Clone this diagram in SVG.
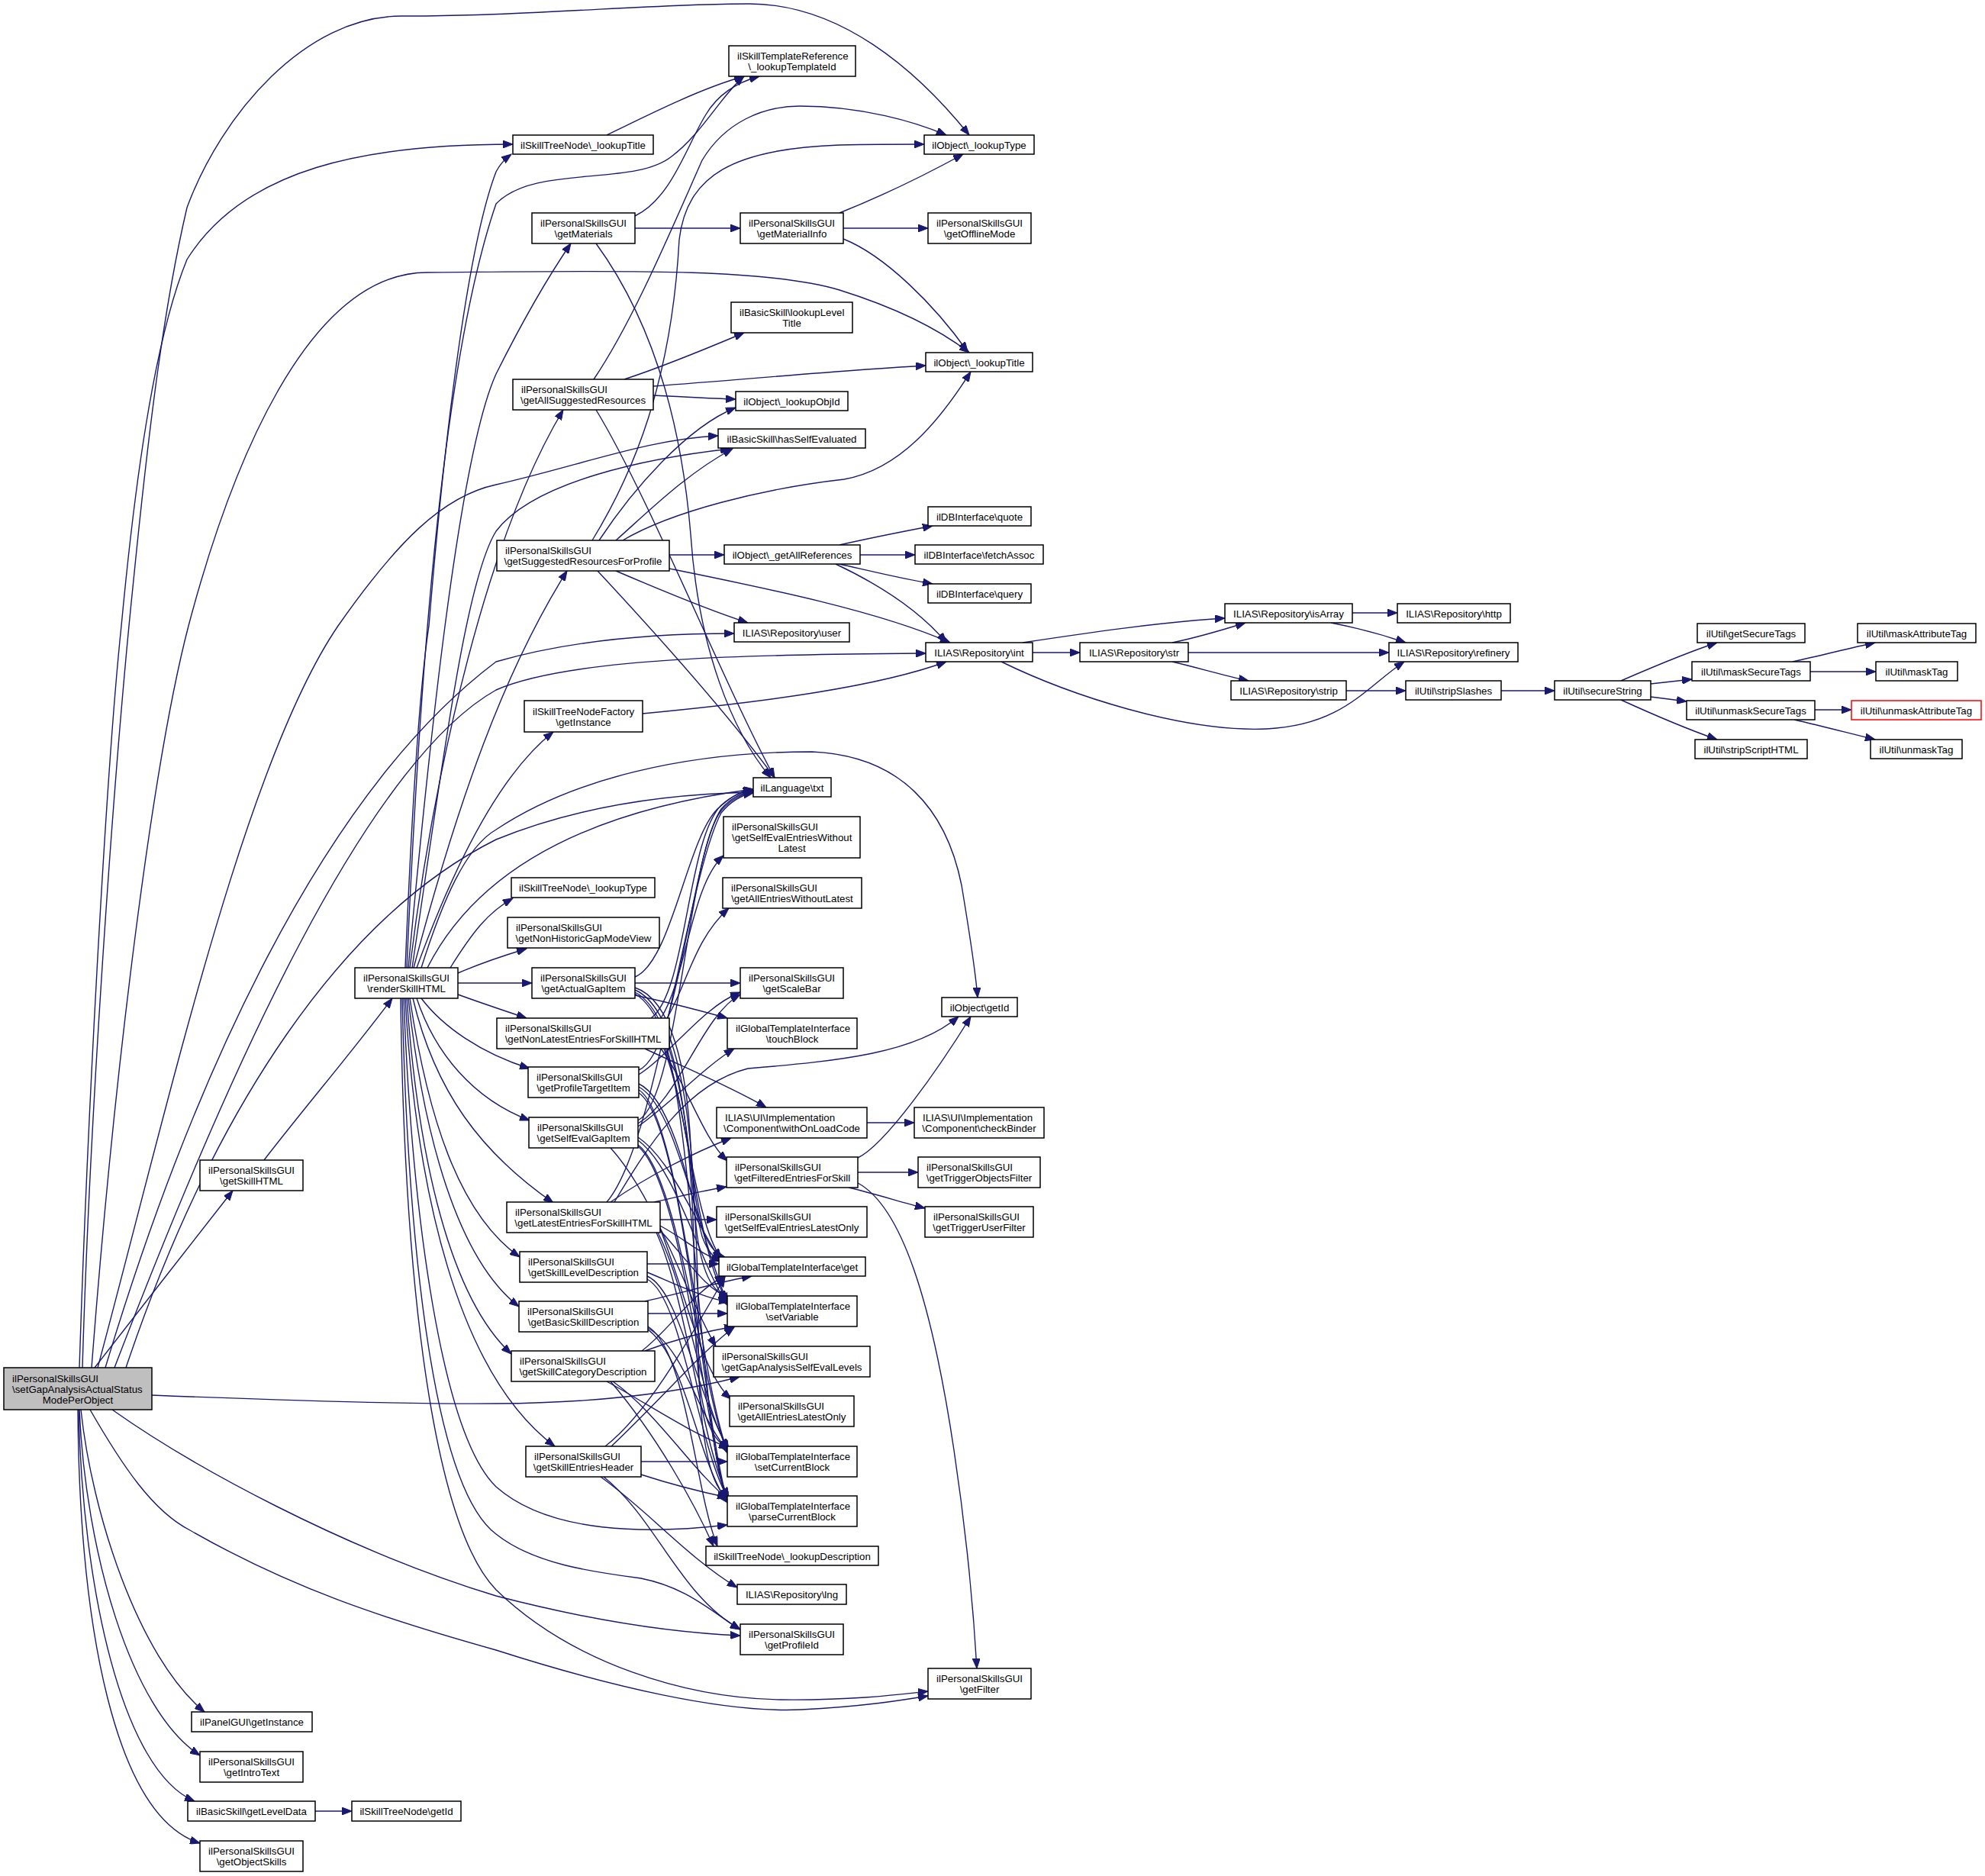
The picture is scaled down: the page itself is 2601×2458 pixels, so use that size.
<svg xmlns="http://www.w3.org/2000/svg" width="2601" height="2458" viewBox="0 0 2601 2458">
<style>
.n rect{fill:#fff;stroke:#000;stroke-width:1.5}
.n.root rect{fill:#bfbfbf}
.n.red rect{stroke:#ff0000}
.n text{font-family:"Liberation Sans",Arial,Helvetica,sans-serif;font-size:13.3px;fill:#000}
.n text.c{text-anchor:middle}
#edges path{fill:none;stroke:#191970;stroke-width:1.4;marker-end:url(#arr)}
</style>
<defs>
<marker id="arr" markerWidth="14" markerHeight="10" refX="13" refY="5" orient="auto" markerUnits="userSpaceOnUse">
<path d="M0,0 L13,5 L0,10 Z" fill="#191970" stroke="#191970" stroke-width="1"/>
</marker>
</defs>
<rect x="0" y="0" width="2601" height="2458" fill="#fff"/>
<g id="edges">
<path d="M108,1792 C118,1450 150,1000 175,760 C195,560 215,400 245,272 C290,150 400,21 526,21 C700,21 850,5 982,5 C1100,5 1200,90 1270,177"/>
<path d="M104,1792 C115,1450 140,1000 159,820 C175,650 200,450 245,340 C320,220 480,189 672,189"/>
<path d="M120,1792 C150,1400 200,1000 247,820 C300,620 400,357 560,357 C800,355 1000,350 1100,380 C1180,405 1235,435 1270,462"/>
<path d="M128,1792 C220,1450 320,1000 443,820 C520,710 580,650 650,635 C760,610 850,575 941,571"/>
<path d="M138,1792 C250,1420 420,1040 650,867 C760,835 880,830 962,830"/>
<path d="M150,1792 C300,1400 480,1000 650,904 C750,860 1000,858 1213,856"/>
<path d="M165,1792 C280,1450 450,1200 650,1100 C760,1055 880,1040 987,1038"/>
<path d="M124,1792 C180,1720 250,1630 305,1560"/>
<path d="M199,1828 C400,1836 550,1840 650,1839 C800,1838 900,1822 969,1804"/>
<path d="M147,1847 C250,1920 450,2030 650,2091 C800,2130 900,2140 970,2143"/>
<path d="M118,1847 C160,1920 200,1980 249,2005 C380,2080 500,2120 650,2162 C800,2210 950,2245 1050,2240 C1130,2236 1180,2228 1216,2222"/>
<path d="M106,1847 C120,1980 180,2170 268,2243"/>
<path d="M104,1847 C112,2030 170,2240 262,2300"/>
<path d="M103,1847 C108,2080 160,2320 255,2360"/>
<path d="M102,1847 C104,2130 150,2380 262,2415"/>
<path d="M346,1520 C400,1450 460,1380 514,1308"/>
<path d="M413,2373 L461,2373"/>
<path d="M531,1268 C540,1050 550,900 562,820 C580,600 610,330 650,225 C655,215 662,208 670,202"/>
<path d="M533,1268 C545,1000 570,500 650,267 C700,215 830,245 880,205 C920,175 945,125 975,100"/>
<path d="M535,1268 C560,1000 600,600 650,490 C690,410 720,360 748,319"/>
<path d="M537,1268 C570,1000 640,700 738,537"/>
<path d="M540,1268 C580,1000 610,760 650,696 C700,630 850,600 957,588"/>
<path d="M542,1268 C600,1050 660,880 743,748"/>
<path d="M546,1268 C600,1120 660,1010 725,959"/>
<path d="M560,1268 C620,1150 750,1065 987,1034"/>
<path d="M552,1268 C580,1180 610,1110 650,1087 C750,1020 900,985 1064,985 C1180,990 1240,1060 1260,1160 C1270,1220 1278,1270 1281,1307"/>
<path d="M590,1268 C620,1220 640,1195 672,1177"/>
<path d="M600,1275 C630,1262 660,1252 690,1243"/>
<path d="M600,1288 L697,1288"/>
<path d="M600,1303 C630,1314 660,1324 690,1334"/>
<path d="M552,1308 C580,1345 630,1380 694,1400"/>
<path d="M546,1308 C570,1380 620,1440 694,1468"/>
<path d="M541,1308 C570,1430 630,1510 725,1576"/>
<path d="M537,1308 C560,1460 600,1590 681,1647"/>
<path d="M535,1308 C555,1490 600,1650 680,1712"/>
<path d="M533,1308 C548,1520 590,1700 670,1774"/>
<path d="M531,1308 C545,1560 600,1800 727,1895"/>
<path d="M529,1308 C540,1600 580,1880 650,1948 C720,2010 850,2010 953,1998"/>
<path d="M527,1308 C535,1650 570,1950 650,2010 C700,2050 780,2060 840,2068 C900,2080 930,2110 970,2135"/>
<path d="M525,1308 C530,1700 570,2000 650,2083 C750,2180 900,2225 1023,2227 C1120,2228 1180,2220 1216,2216"/>
<path d="M795,177 C850,150 920,115 975,100"/>
<path d="M832,283 C880,260 900,190 925,150 C940,125 965,108 995,100"/>
<path d="M832,299 L970,299"/>
<path d="M781,319 C840,400 890,520 905,700 C915,850 960,960 1010,1019"/>
<path d="M1100,279 C1160,255 1220,225 1262,202"/>
<path d="M1105,299 L1216,299"/>
<path d="M1105,313 C1160,335 1225,400 1268,461"/>
<path d="M818,497 C870,480 930,455 975,436"/>
<path d="M856,506 C1000,495 1120,484 1213,479"/>
<path d="M856,518 C900,520 930,522 964,523"/>
<path d="M778,497 C830,420 880,300 920,210 C950,160 1000,139 1048,139 C1130,139 1200,160 1240,177"/>
<path d="M781,537 C850,650 950,900 1015,1019"/>
<path d="M776,708 C830,620 880,500 890,314 C900,230 960,195 1100,190 C1150,189 1190,189 1211,189"/>
<path d="M785,708 C830,640 900,560 964,534"/>
<path d="M807,708 C850,670 900,620 960,588"/>
<path d="M816,708 C880,670 1000,640 1106,628 C1180,615 1232,550 1272,487"/>
<path d="M877,727 L949,727"/>
<path d="M807,748 C870,775 930,800 980,816"/>
<path d="M783,748 C850,820 950,930 1015,1019"/>
<path d="M877,745 C1000,770 1150,800 1245,842"/>
<path d="M1100,714 C1140,705 1180,697 1222,689"/>
<path d="M1127,727 L1199,727"/>
<path d="M1100,739 C1140,748 1180,758 1222,765"/>
<path d="M1095,739 C1150,765 1205,800 1240,842"/>
<path d="M1340,842 C1420,830 1520,815 1605,810"/>
<path d="M1353,855 L1415,855"/>
<path d="M1312,867 C1400,910 1550,960 1660,955 C1760,950 1790,900 1840,867"/>
<path d="M1772,803 L1831,803"/>
<path d="M1744,816 C1780,823 1810,831 1842,842"/>
<path d="M1536,842 C1570,835 1600,826 1632,816"/>
<path d="M1557,855 L1820,855"/>
<path d="M1536,867 C1570,875 1600,884 1636,892"/>
<path d="M1764,905 L1842,905"/>
<path d="M1967,905 L2037,905"/>
<path d="M2124,892 C2170,872 2210,855 2250,842"/>
<path d="M2163,896 L2217,890"/>
<path d="M2163,913 L2210,919"/>
<path d="M2124,917 C2170,938 2210,955 2250,969"/>
<path d="M2349,867 C2390,858 2420,850 2457,842"/>
<path d="M2372,880 L2458,880"/>
<path d="M2378,930 L2426,930"/>
<path d="M2351,943 C2390,952 2420,960 2457,969"/>
<path d="M842,935 C1000,920 1150,900 1240,867"/>
<path d="M1136,1471 L1198,1471"/>
<path d="M1124,1536 L1203,1536"/>
<path d="M1112,1556 C1150,1565 1180,1575 1212,1583"/>
<path d="M1124,1517 C1160,1500 1230,1400 1272,1332"/>
<path d="M1124,1550 C1180,1580 1220,1700 1250,1900 C1265,2000 1275,2100 1280,2186"/>
<path d="M832,1280 C880,1260 900,1100 940,1060 C960,1042 972,1036 987,1034"/>
<path d="M832,1288 L970,1288"/>
<path d="M832,1304 C870,1312 910,1322 953,1334"/>
<path d="M832,1294 C880,1310 900,1400 905,1500 C910,1600 925,1640 950,1647"/>
<path d="M832,1297 C885,1320 905,1450 910,1580 C915,1670 935,1695 955,1700"/>
<path d="M832,1300 C890,1330 910,1500 910,1700 C912,1850 930,1888 955,1897"/>
<path d="M832,1302 C895,1340 915,1550 915,1750 C915,1900 935,1955 955,1962"/>
<path d="M853,1334 C900,1300 900,1100 945,1055 C962,1040 975,1037 987,1035"/>
<path d="M866,1334 C900,1280 905,1160 948,1121"/>
<path d="M874,1334 C900,1290 910,1230 955,1190"/>
<path d="M845,1374 C900,1400 960,1425 1004,1451"/>
<path d="M866,1374 C900,1420 920,1490 953,1521"/>
<path d="M870,1374 C900,1450 910,1600 945,1649"/>
<path d="M872,1374 C905,1470 915,1650 953,1704"/>
<path d="M874,1374 C910,1500 920,1900 953,1964"/>
<path d="M837,1402 C890,1380 905,1120 945,1060 C960,1043 975,1038 987,1036"/>
<path d="M837,1408 C880,1380 920,1320 970,1300"/>
<path d="M837,1420 C880,1440 905,1560 920,1620 C928,1642 936,1648 946,1652"/>
<path d="M837,1424 C885,1450 910,1600 953,1707"/>
<path d="M837,1428 C890,1460 915,1800 953,1901"/>
<path d="M837,1432 C895,1470 920,1850 953,1967"/>
<path d="M836,1468 C890,1440 900,1120 945,1062 C960,1045 975,1040 987,1037"/>
<path d="M836,1472 C890,1440 920,1330 970,1303"/>
<path d="M836,1476 C880,1445 920,1400 962,1374"/>
<path d="M836,1490 C880,1520 910,1600 946,1654"/>
<path d="M836,1494 C885,1530 915,1650 953,1710"/>
<path d="M836,1500 C890,1540 920,1820 953,1904"/>
<path d="M836,1502 C895,1550 925,1880 953,1969"/>
<path d="M800,1504 C860,1570 900,1700 938,1764"/>
<path d="M795,1575 C860,1500 900,1150 945,1065 C960,1047 975,1041 987,1039"/>
<path d="M800,1575 C850,1540 910,1510 958,1491"/>
<path d="M805,1575 C850,1500 900,1420 980,1400 C1100,1390 1200,1380 1256,1332"/>
<path d="M857,1575 C890,1568 920,1560 952,1555"/>
<path d="M865,1598 L939,1598"/>
<path d="M865,1610 C900,1700 920,1800 958,1833"/>
<path d="M865,1606 C900,1625 920,1645 945,1652"/>
<path d="M865,1612 C900,1650 925,1690 955,1700"/>
<path d="M860,1615 C900,1700 920,1900 955,1962"/>
<path d="M862,1615 C905,1700 920,1850 955,1898"/>
<path d="M848,1656 L942,1656"/>
<path d="M848,1667 C880,1680 920,1700 955,1706"/>
<path d="M848,1672 C890,1690 910,1820 955,1900"/>
<path d="M848,1676 C895,1700 915,1900 955,1965"/>
<path d="M845,1705 C890,1695 940,1680 985,1672"/>
<path d="M849,1721 L953,1721"/>
<path d="M849,1738 C900,1770 910,1950 940,2026"/>
<path d="M849,1742 C900,1780 915,1920 955,1970"/>
<path d="M849,1740 C900,1770 915,1860 955,1902"/>
<path d="M841,1770 C880,1740 910,1690 950,1672"/>
<path d="M845,1770 C885,1755 920,1745 962,1738"/>
<path d="M800,1810 C860,1880 910,1970 935,2026"/>
<path d="M795,1810 C850,1840 900,1875 955,1897"/>
<path d="M803,1810 C860,1850 910,1930 955,1965"/>
<path d="M793,1895 C850,1850 900,1760 950,1673"/>
<path d="M801,1895 C860,1840 920,1770 962,1739"/>
<path d="M840,1915 L953,1915"/>
<path d="M840,1932 C880,1945 920,1955 953,1962"/>
<path d="M787,1935 C850,1980 900,2040 966,2080"/>
<path d="M791,1935 C860,1990 890,2090 970,2135"/>
</g>
<g id="n1" class="n"><rect x="955" y="60" width="166" height="40"/><text x="966" y="78">ilSkillTemplateReference</text><text class="c" x="1038" y="92">\_lookupTemplateId</text></g>
<g id="n2" class="n"><rect x="672" y="177" width="184" height="25"/><text class="c" x="764" y="194.5">ilSkillTreeNode\_lookupTitle</text></g>
<g id="n3" class="n"><rect x="1211" y="177" width="144" height="25"/><text class="c" x="1283" y="194.5">ilObject\_lookupType</text></g>
<g id="n4" class="n"><rect x="697" y="279" width="135" height="40"/><text x="708" y="297">ilPersonalSkillsGUI</text><text class="c" x="764.5" y="311">\getMaterials</text></g>
<g id="n5" class="n"><rect x="970" y="279" width="135" height="40"/><text x="981" y="297">ilPersonalSkillsGUI</text><text class="c" x="1037.5" y="311">\getMaterialInfo</text></g>
<g id="n6" class="n"><rect x="1216" y="279" width="135" height="40"/><text x="1227" y="297">ilPersonalSkillsGUI</text><text class="c" x="1283.5" y="311">\getOfflineMode</text></g>
<g id="n7" class="n"><rect x="958" y="396" width="159" height="40"/><text x="969" y="414">ilBasicSkill\lookupLevel</text><text class="c" x="1037.5" y="428">Title</text></g>
<g id="n8" class="n"><rect x="1213" y="462" width="140" height="25"/><text class="c" x="1283" y="479.5">ilObject\_lookupTitle</text></g>
<g id="n9" class="n"><rect x="672" y="497" width="184" height="40"/><text x="683" y="515">ilPersonalSkillsGUI</text><text class="c" x="764" y="529">\getAllSuggestedResources</text></g>
<g id="n10" class="n"><rect x="964" y="513" width="147" height="25"/><text class="c" x="1037.5" y="530.5">ilObject\_lookupObjId</text></g>
<g id="n11" class="n"><rect x="941" y="562" width="193" height="25"/><text class="c" x="1037.5" y="579.5">ilBasicSkill\hasSelfEvaluated</text></g>
<g id="n12" class="n"><rect x="1216" y="664" width="135" height="25"/><text class="c" x="1283.5" y="681.5">ilDBInterface\quote</text></g>
<g id="n13" class="n"><rect x="651" y="708" width="226" height="40"/><text x="662" y="726">ilPersonalSkillsGUI</text><text class="c" x="764" y="740">\getSuggestedResourcesForProfile</text></g>
<g id="n14" class="n"><rect x="949" y="714" width="178" height="25"/><text class="c" x="1038" y="731.5">ilObject\_getAllReferences</text></g>
<g id="n15" class="n"><rect x="1199" y="714" width="168" height="25"/><text class="c" x="1283" y="731.5">ilDBInterface\fetchAssoc</text></g>
<g id="n16" class="n"><rect x="1216" y="765" width="135" height="25"/><text class="c" x="1283.5" y="782.5">ilDBInterface\query</text></g>
<g id="n17" class="n"><rect x="1605" y="791" width="167" height="25"/><text class="c" x="1688.5" y="808.5">ILIAS\Repository\isArray</text></g>
<g id="n18" class="n"><rect x="1831" y="791" width="148" height="25"/><text class="c" x="1905" y="808.5">ILIAS\Repository\http</text></g>
<g id="n19" class="n"><rect x="962" y="816" width="151" height="25"/><text class="c" x="1037.5" y="833.5">ILIAS\Repository\user</text></g>
<g id="n20" class="n"><rect x="1213" y="842" width="140" height="25"/><text class="c" x="1283" y="859.5">ILIAS\Repository\int</text></g>
<g id="n21" class="n"><rect x="687" y="918" width="155" height="41"/><text x="698" y="936.5">ilSkillTreeNodeFactory</text><text class="c" x="764.5" y="950.5">\getInstance</text></g>
<g id="n22" class="n"><rect x="987" y="1019" width="102" height="25"/><text class="c" x="1038" y="1036.5">ilLanguage\txt</text></g>
<g id="n23" class="n"><rect x="948" y="1070" width="179" height="54"/><text x="959" y="1088">ilPersonalSkillsGUI</text><text x="959" y="1102">\getSelfEvalEntriesWithout</text><text class="c" x="1037.5" y="1116">Latest</text></g>
<g id="n24" class="n"><rect x="670" y="1150" width="188" height="26"/><text class="c" x="764" y="1168">ilSkillTreeNode\_lookupType</text></g>
<g id="n25" class="n"><rect x="947" y="1150" width="182" height="40"/><text x="958" y="1168">ilPersonalSkillsGUI</text><text class="c" x="1038" y="1182">\getAllEntriesWithoutLatest</text></g>
<g id="n26" class="n"><rect x="665" y="1202" width="199" height="40"/><text x="676" y="1220">ilPersonalSkillsGUI</text><text class="c" x="764.5" y="1234">\getNonHistoricGapModeView</text></g>
<g id="n27" class="n"><rect x="697" y="1268" width="135" height="40"/><text x="708" y="1286">ilPersonalSkillsGUI</text><text class="c" x="764.5" y="1300">\getActualGapItem</text></g>
<g id="n28" class="n"><rect x="970" y="1268" width="135" height="40"/><text x="981" y="1286">ilPersonalSkillsGUI</text><text class="c" x="1037.5" y="1300">\getScaleBar</text></g>
<g id="n29" class="n"><rect x="1234" y="1307" width="99" height="25"/><text class="c" x="1283.5" y="1324.5">ilObject\getId</text></g>
<g id="n30" class="n"><rect x="651" y="1334" width="226" height="40"/><text x="662" y="1352">ilPersonalSkillsGUI</text><text class="c" x="764" y="1366">\getNonLatestEntriesForSkillHTML</text></g>
<g id="n31" class="n"><rect x="953" y="1334" width="170" height="40"/><text x="964" y="1352">ilGlobalTemplateInterface</text><text class="c" x="1038" y="1366">\touchBlock</text></g>
<g id="n32" class="n"><rect x="692" y="1398" width="145" height="40"/><text x="703" y="1416">ilPersonalSkillsGUI</text><text class="c" x="764.5" y="1430">\getProfileTargetItem</text></g>
<g id="n33" class="n"><rect x="693" y="1464" width="143" height="40"/><text x="704" y="1482">ilPersonalSkillsGUI</text><text class="c" x="764.5" y="1496">\getSelfEvalGapItem</text></g>
<g id="n34" class="n"><rect x="939" y="1451" width="197" height="40"/><text x="950" y="1469">ILIAS\UI\Implementation</text><text class="c" x="1037.5" y="1483">\Component\withOnLoadCode</text></g>
<g id="n35" class="n"><rect x="1198" y="1451" width="170" height="40"/><text x="1209" y="1469">ILIAS\UI\Implementation</text><text class="c" x="1283" y="1483">\Component\checkBinder</text></g>
<g id="n36" class="n"><rect x="952" y="1516" width="172" height="40"/><text x="963" y="1534">ilPersonalSkillsGUI</text><text class="c" x="1038" y="1548">\getFilteredEntriesForSkill</text></g>
<g id="n37" class="n"><rect x="1203" y="1516" width="160" height="40"/><text x="1214" y="1534">ilPersonalSkillsGUI</text><text class="c" x="1283" y="1548">\getTriggerObjectsFilter</text></g>
<g id="n38" class="n"><rect x="664" y="1575" width="201" height="40"/><text x="675" y="1593">ilPersonalSkillsGUI</text><text class="c" x="764.5" y="1607">\getLatestEntriesForSkillHTML</text></g>
<g id="n39" class="n"><rect x="939" y="1581" width="197" height="40"/><text x="950" y="1599">ilPersonalSkillsGUI</text><text class="c" x="1037.5" y="1613">\getSelfEvalEntriesLatestOnly</text></g>
<g id="n40" class="n"><rect x="1212" y="1581" width="142" height="40"/><text x="1223" y="1599">ilPersonalSkillsGUI</text><text class="c" x="1283" y="1613">\getTriggerUserFilter</text></g>
<g id="n41" class="n"><rect x="1415" y="842" width="142" height="25"/><text class="c" x="1486" y="859.5">ILIAS\Repository\str</text></g>
<g id="n42" class="n"><rect x="1820" y="842" width="169" height="25"/><text class="c" x="1904.5" y="859.5">ILIAS\Repository\refinery</text></g>
<g id="n43" class="n"><rect x="1613" y="892" width="151" height="25"/><text class="c" x="1688.5" y="909.5">ILIAS\Repository\strip</text></g>
<g id="n44" class="n"><rect x="1842" y="892" width="125" height="25"/><text class="c" x="1904.5" y="909.5">ilUtil\stripSlashes</text></g>
<g id="n45" class="n"><rect x="2037" y="892" width="126" height="25"/><text class="c" x="2100" y="909.5">ilUtil\secureString</text></g>
<g id="n46" class="n"><rect x="2224" y="817" width="141" height="25"/><text class="c" x="2294.5" y="834.5">ilUtil\getSecureTags</text></g>
<g id="n47" class="n"><rect x="2434" y="817" width="155" height="25"/><text class="c" x="2511.5" y="834.5">ilUtil\maskAttributeTag</text></g>
<g id="n48" class="n"><rect x="2217" y="867" width="155" height="25"/><text class="c" x="2294.5" y="884.5">ilUtil\maskSecureTags</text></g>
<g id="n49" class="n"><rect x="2458" y="867" width="107" height="25"/><text class="c" x="2511.5" y="884.5">ilUtil\maskTag</text></g>
<g id="n50" class="n"><rect x="2210" y="918" width="168" height="25"/><text class="c" x="2294" y="935.5">ilUtil\unmaskSecureTags</text></g>
<g id="n51" class="n red"><rect x="2426" y="918" width="170" height="25"/><text class="c" x="2511" y="935.5">ilUtil\unmaskAttributeTag</text></g>
<g id="n52" class="n"><rect x="2221" y="969" width="147" height="25"/><text class="c" x="2294.5" y="986.5">ilUtil\stripScriptHTML</text></g>
<g id="n53" class="n"><rect x="2451" y="969" width="120" height="25"/><text class="c" x="2511" y="986.5">ilUtil\unmaskTag</text></g>
<g id="n54" class="n"><rect x="465" y="1268" width="135" height="40"/><text x="476" y="1286">ilPersonalSkillsGUI</text><text class="c" x="532.5" y="1300">\renderSkillHTML</text></g>
<g id="n55" class="n"><rect x="262" y="1520" width="135" height="40"/><text x="273" y="1538">ilPersonalSkillsGUI</text><text class="c" x="329.5" y="1552">\getSkillHTML</text></g>
<g id="n56" class="n root"><rect x="5" y="1792" width="194" height="55"/><text x="16" y="1810.5">ilPersonalSkillsGUI</text><text x="16" y="1824.5">\setGapAnalysisActualStatus</text><text class="c" x="102" y="1838.5">ModePerObject</text></g>
<g id="n57" class="n"><rect x="251" y="2243" width="158" height="26"/><text class="c" x="330" y="2261">ilPanelGUI\getInstance</text></g>
<g id="n58" class="n"><rect x="262" y="2295" width="135" height="40"/><text x="273" y="2313">ilPersonalSkillsGUI</text><text class="c" x="329.5" y="2327">\getIntroText</text></g>
<g id="n59" class="n"><rect x="246" y="2360" width="167" height="26"/><text class="c" x="329.5" y="2378">ilBasicSkill\getLevelData</text></g>
<g id="n60" class="n"><rect x="461" y="2360" width="143" height="26"/><text class="c" x="532.5" y="2378">ilSkillTreeNode\getId</text></g>
<g id="n61" class="n"><rect x="262" y="2412" width="135" height="40"/><text x="273" y="2430">ilPersonalSkillsGUI</text><text class="c" x="329.5" y="2444">\getObjectSkills</text></g>
<g id="n62" class="n"><rect x="681" y="1640" width="167" height="40"/><text x="692" y="1658">ilPersonalSkillsGUI</text><text class="c" x="764.5" y="1672">\getSkillLevelDescription</text></g>
<g id="n63" class="n"><rect x="942" y="1647" width="192" height="25"/><text class="c" x="1038" y="1664.5">ilGlobalTemplateInterface\get</text></g>
<g id="n64" class="n"><rect x="680" y="1705" width="169" height="40"/><text x="691" y="1723">ilPersonalSkillsGUI</text><text class="c" x="764.5" y="1737">\getBasicSkillDescription</text></g>
<g id="n65" class="n"><rect x="953" y="1698" width="170" height="40"/><text x="964" y="1716">ilGlobalTemplateInterface</text><text class="c" x="1038" y="1730">\setVariable</text></g>
<g id="n66" class="n"><rect x="670" y="1770" width="188" height="40"/><text x="681" y="1788">ilPersonalSkillsGUI</text><text class="c" x="764" y="1802">\getSkillCategoryDescription</text></g>
<g id="n67" class="n"><rect x="935" y="1764" width="205" height="40"/><text x="946" y="1782">ilPersonalSkillsGUI</text><text class="c" x="1037.5" y="1796">\getGapAnalysisSelfEvalLevels</text></g>
<g id="n68" class="n"><rect x="956" y="1829" width="163" height="40"/><text x="967" y="1847">ilPersonalSkillsGUI</text><text class="c" x="1037.5" y="1861">\getAllEntriesLatestOnly</text></g>
<g id="n69" class="n"><rect x="689" y="1895" width="151" height="40"/><text x="700" y="1913">ilPersonalSkillsGUI</text><text class="c" x="764.5" y="1927">\getSkillEntriesHeader</text></g>
<g id="n70" class="n"><rect x="953" y="1895" width="170" height="40"/><text x="964" y="1913">ilGlobalTemplateInterface</text><text class="c" x="1038" y="1927">\setCurrentBlock</text></g>
<g id="n71" class="n"><rect x="953" y="1960" width="170" height="40"/><text x="964" y="1978">ilGlobalTemplateInterface</text><text class="c" x="1038" y="1992">\parseCurrentBlock</text></g>
<g id="n72" class="n"><rect x="925" y="2026" width="226" height="25"/><text class="c" x="1038" y="2043.5">ilSkillTreeNode\_lookupDescription</text></g>
<g id="n73" class="n"><rect x="966" y="2076" width="143" height="26"/><text class="c" x="1037.5" y="2094">ILIAS\Repository\lng</text></g>
<g id="n74" class="n"><rect x="970" y="2128" width="135" height="40"/><text x="981" y="2146">ilPersonalSkillsGUI</text><text class="c" x="1037.5" y="2160">\getProfileId</text></g>
<g id="n75" class="n"><rect x="1216" y="2186" width="135" height="40"/><text x="1227" y="2204">ilPersonalSkillsGUI</text><text class="c" x="1283.5" y="2218">\getFilter</text></g>
</svg>
